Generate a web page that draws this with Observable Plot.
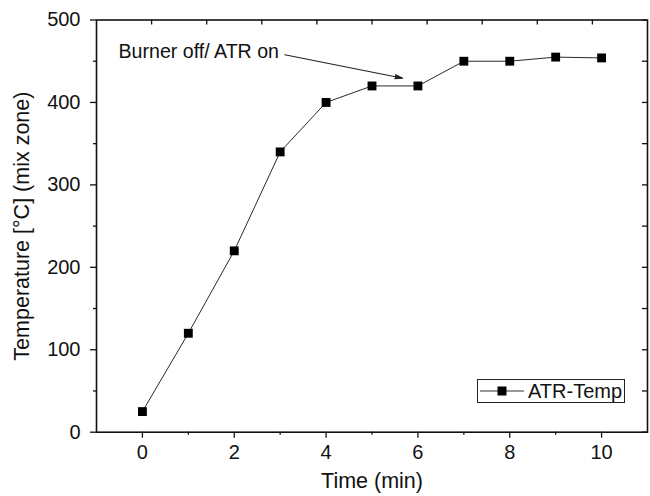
<!DOCTYPE html>
<html><head><meta charset="utf-8">
<script src="https://cdn.jsdelivr.net/npm/d3@7"></script>
<script src="https://cdn.jsdelivr.net/npm/@observablehq/plot@0.6"></script>
<style>
body{margin:0;background:#fff;font-family:"Liberation Sans",Arial,sans-serif;color:#111;}
#wrap{position:relative;width:650px;height:496px;}
#legend{position:absolute;left:477px;top:379px;width:148px;height:24px;box-sizing:border-box;border:1.2px solid #222;background:#fff;display:flex;align-items:center;font-size:20px;line-height:1;}
#legend svg{display:block;}
</style></head><body><div id="wrap"></div>
<script>
// data
const time = [0, 1, 2, 3, 4, 5, 6, 7, 8, 9, 10];
const temp = [25, 120, 220, 340, 400, 420, 420, 450, 450, 455, 454];
const seriesName = "ATR-Temp";
// ticks
const xMajor = [0, 2, 4, 6, 8, 10];
const xMinor = [1, 3, 5, 7, 9];
const yMajor = [0, 100, 200, 300, 400, 500];
const yMinor = [50, 150, 250, 350, 450];
const topTicks = [0.2, 1.4, 2.6, 3.8, 5.0, 6.2, 7.4, 8.6, 9.8];
// annotation
const noteText = ["Burner off/ ATR on"];
const noteX = [-0.52];
const noteY = [461];
const arrowStart = [3.1, 457.8];
const arrowEnd = [5.67, 429.4];
const xTitle = "Time (min)";
const yTitle = "Temperature [°C] (mix zone)";

const W = 650, H = 496, mL = 96, mR = 3, mT = 19.5, mB = 64.3;
const innerW = W - mL - mR, innerH = H - mT - mB;
const data = time.map((t, i) => ({time: t, temp: temp[i]}));
const notes = noteText.map((t, i) => ({text: t, x: noteX[i], y: noteY[i]}));
const arrows = [{x1: arrowStart[0], y1: arrowStart[1], x2: arrowEnd[0], y2: arrowEnd[1]}];

const chart = Plot.plot({
  width: W, height: H,
  marginLeft: mL, marginRight: mR, marginTop: mT, marginBottom: mB,
  style: {fontFamily: "'Liberation Sans', Arial, sans-serif", fontSize: "20px", color: "#111", background: "#fff"},
  x: {domain: [-1, 11]},
  y: {domain: [0, 500]},
  marks: [
    Plot.axisX(xMajor, {tickSize: 6, tickPadding: 7, label: null, fontSize: 20, strokeWidth: 1.3}),
    Plot.axisX(xMinor, {tickSize: 3, tickFormat: () => "", label: null, strokeWidth: 1.3}),
    Plot.axisY(yMajor, {tickSize: 6, tickPadding: 10, label: null, fontSize: 20, strokeWidth: 1.3}),
    Plot.axisY(yMinor, {tickSize: 3, tickFormat: () => "", label: null, strokeWidth: 1.3}),
    Plot.tickX(topTicks, {x: d => d, insetBottom: innerH - 5, stroke: "#111", strokeWidth: 1.3}),
    Plot.tickY(yMajor.concat(yMinor), {y: d => d, insetLeft: innerW - 5, stroke: "#111", strokeWidth: 1.3}),
    Plot.frame({stroke: "#111", strokeWidth: 1.6}),
    Plot.line(data, {x: "time", y: "temp", stroke: "#2a2a2a", strokeWidth: 1}),
    Plot.dot(data, {x: "time", y: "temp", symbol: "square", r: 5, fill: "#000", stroke: null}),
    Plot.text(notes, {x: "x", y: "y", text: "text", textAnchor: "start", fontSize: 19.6, fill: "#111"}),
    Plot.arrow(arrows, {x1: "x1", y1: "y1", x2: "x2", y2: "y2", stroke: "#222", fill: "#222", strokeWidth: 1.1, headLength: 11, headAngle: 30}),
    Plot.text([xTitle], {frameAnchor: "bottom", lineAnchor: "middle", textAnchor: "middle", dy: 49, fontSize: 21.5, fill: "#111"}),
    Plot.text([yTitle], {frameAnchor: "left", lineAnchor: "middle", textAnchor: "middle", dx: -74, rotate: -90, fontSize: 21.5, fill: "#111"})
  ]
});
const wrap = document.getElementById("wrap");
wrap.appendChild(chart);

// legend
const legend = document.createElement("div");
legend.id = "legend";
legend.innerHTML = `<svg width="50" height="22"><line x1="2" y1="11" x2="46" y2="11" stroke="#333" stroke-width="1"/><rect x="19.5" y="6.5" width="9" height="9" fill="#000"/></svg><span>${seriesName}</span>`;
wrap.appendChild(legend);
</script>
</body></html>
